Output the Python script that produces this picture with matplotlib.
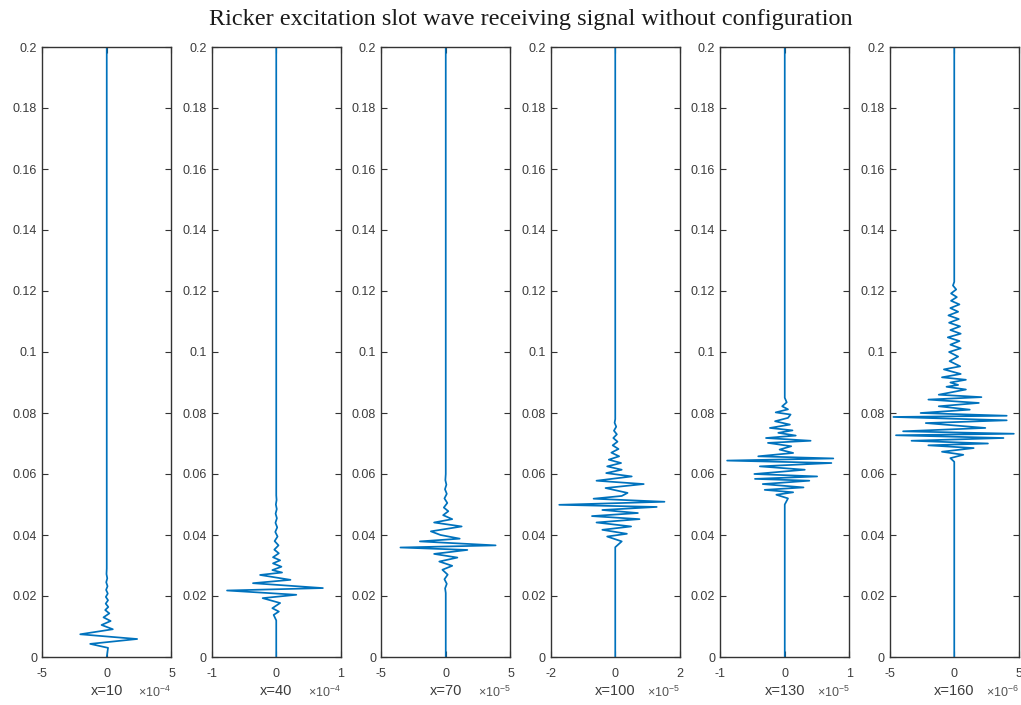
import matplotlib
matplotlib.use("Agg")
import matplotlib.pyplot as plt
from matplotlib.ticker import FuncFormatter, MultipleLocator

plt.rcParams["mathtext.fontset"] = "custom"
plt.rcParams["mathtext.rm"] = "Liberation Sans"
plt.rcParams["mathtext.it"] = "Liberation Sans"

# ---------------- data ----------------
labels = ["x=10", "x=40", "x=70", "x=100", "x=130", "x=160"]
xlims = [5e-4, 1e-4, 5e-5, 2e-5, 1e-5, 5e-6]
xtick_text = [["-5", "0", "5"], ["-1", "0", "1"], ["-5", "0", "5"],
              ["-2", "0", "2"], ["-1", "0", "1"], ["-5", "0", "5"]]
exponents = [-4, -4, -5, -5, -5, -6]

# trace x=10 : time (s) of extrema and amplitude
t1 = [0, 0.0030, 0.0043, 0.0059, 0.00745, 0.0091, 0.0105, 0.0118, 0.0130,
      0.0143, 0.0154, 0.0164, 0.0175, 0.0186, 0.0197, 0.0208, 0.0220, 0.0232,
      0.0245, 0.0258, 0.0272, 0.0290, 0.2]
a1 = [0, 0.1e-4, -1.28e-4, 2.35e-4, -2.05e-4, 0.47e-4, -0.40e-4, 0.30e-4,
      -0.25e-4, 0.20e-4, -0.12e-4, 0.12e-4, -0.08e-4, 0.10e-4, -0.07e-4,
      0.08e-4, -0.05e-4, 0.06e-4, -0.04e-4, 0.04e-4, -0.02e-4, 0, 0]

# trace x=40
t2 = [0, 0.0120, 0.0138, 0.0149, 0.0160, 0.0177, 0.0193, 0.0204, 0.0218,
      0.0226, 0.0242, 0.0253, 0.0269, 0.0277, 0.0285, 0.0296, 0.0307, 0.0317,
      0.0327, 0.0340, 0.0352, 0.0366, 0.0380, 0.0395, 0.0410, 0.0425, 0.0440,
      0.0455, 0.0470, 0.0485, 0.0500, 0.0515, 0.0530, 0.2]
a2 = [0, 0, -0.4e-5, 0.4e-5, -0.6e-5, 0.6e-5, -2.1e-5, 3.1e-5, -7.6e-5,
      7.2e-5, -3.6e-5, 2.2e-5, -2.5e-5, 0.9e-5, -0.6e-5, 0.8e-5, -0.5e-5,
      0.6e-5, -0.5e-5, 0.4e-5, -0.3e-5, 0.35e-5, -0.25e-5, 0.2e-5, -0.15e-5,
      0.15e-5, -0.12e-5, 0.1e-5, -0.1e-5, 0.08e-5, -0.06e-5, 0.05e-5,
      0, 0]

# trace x=70
t3 = [0, 0.0210, 0.0225, 0.0240, 0.0255, 0.0270, 0.0286, 0.0299, 0.0313,
      0.0326, 0.0338, 0.0351, 0.0359, 0.0366, 0.0379, 0.0388, 0.0400, 0.0412,
      0.0428, 0.0441, 0.0452, 0.0465, 0.0478, 0.0490, 0.0505, 0.0520, 0.0535,
      0.0550, 0.0565, 0.0580, 0.0600, 0.2]
a3 = [0, 0, -0.5e-6, 0.8e-6, -1.0e-6, 1.5e-6, -2.6e-6, 5.0e-6, -5.0e-6,
      9.0e-6, -9.0e-6, 16.7e-6, -35.0e-6, 38.5e-6, -20.0e-6, 10.8e-6,
      -4.0e-6, -11.5e-6, 12.3e-6, -9.0e-6, 5.0e-6, -2.0e-6, 2.0e-6, -1.5e-6,
      1.2e-6, -1.0e-6, 0.8e-6, -0.6e-6, 0.5e-6, -0.3e-6, 0, 0]

# trace x=100
t4 = [0, 0.0360, 0.0379, 0.0395, 0.0404, 0.0417, 0.0428, 0.0441, 0.0452,
      0.0462, 0.0472, 0.0482, 0.0492, 0.0499, 0.0509, 0.0519, 0.0528, 0.0538,
      0.0554, 0.0567, 0.0578, 0.0592, 0.0603, 0.0614, 0.0625, 0.0636, 0.0647,
      0.0658, 0.0670, 0.0682, 0.0694, 0.0706, 0.0718, 0.0730, 0.0742, 0.0755,
      0.0768, 0.0780, 0.2]
a4 = [0, 0, 2.0e-6, -2.5e-6, 3.6e-6, -4.0e-6, 4.9e-6, -5.8e-6, 7.5e-6,
      -7.2e-6, 7.0e-6, -4.0e-6, 12.8e-6, -17.3e-6, 15.2e-6, -6.7e-6, 2.0e-6,
      3.8e-6, -3.0e-6, 8.8e-6, -5.8e-6, 5.1e-6, -2.8e-6, 2.0e-6, -2.5e-6,
      1.8e-6, -2.0e-6, 1.2e-6, -1.2e-6, 1.0e-6, -0.8e-6, 0.7e-6, -0.6e-6,
      0.5e-6, -0.4e-6, 0.3e-6, -0.2e-6, 0, 0]

# trace x=130
t5 = [0, 0.0500, 0.0520, 0.0532, 0.0540, 0.0548, 0.0556, 0.0567, 0.0578,
      0.0584, 0.0592, 0.0600, 0.0614, 0.0625, 0.0636, 0.0644, 0.0651, 0.0658,
      0.0669, 0.0680, 0.0691, 0.0702, 0.0709, 0.0718, 0.0726, 0.0735, 0.0743,
      0.0751, 0.0762, 0.0773, 0.0784, 0.0795, 0.0802, 0.0812, 0.0822, 0.0835,
      0.0850, 0.2]
a5 = [0, 0, 0.5e-6, -1.3e-6, 1.3e-6, -3.1e-6, 2.9e-6, -3.4e-6, 3.8e-6,
      -4.6e-6, 5.0e-6, -4.7e-6, 3.1e-6, -3.85e-6, 7.2e-6, -8.9e-6, 7.5e-6,
      -4.1e-6, 1.3e-6, -0.8e-6, 1.0e-6, -2.6e-6, 4.0e-6, -2.9e-6, 1.7e-6,
      -1.0e-6, 1.2e-6, -2.3e-6, 0.8e-6, -1.5e-6, 0.5e-6, 0.9e-6, -1.4e-6,
      0.5e-6, -0.4e-6, 0.3e-6, 0, 0]

# trace x=160
t6 = [0, 0.0640, 0.0652, 0.0663, 0.0673, 0.0685, 0.0694, 0.0700, 0.0709,
      0.0718, 0.0727, 0.0732, 0.0740, 0.0751, 0.0767, 0.0776, 0.0787, 0.0791,
      0.0800, 0.0811, 0.0822, 0.0833, 0.0844, 0.0852, 0.0860, 0.0877, 0.0886,
      0.0892, 0.0900, 0.0909, 0.0917, 0.0928, 0.0943, 0.0953, 0.0970, 0.0985,
      0.1000, 0.1012, 0.1024, 0.1036, 0.1048, 0.1060, 0.1072, 0.1084, 0.1096,
      0.1108, 0.1120, 0.1132, 0.1144, 0.1156, 0.1168, 0.1180, 0.1192, 0.1205,
      0.1218, 0.1230, 0.2]
a6 = [0, 0, -0.3e-6, 0.7e-6, -0.95e-6, 1.5e-6, -2.0e-6, 2.6e-6, -3.3e-6,
      3.8e-6, -4.5e-6, 4.6e-6, -3.95e-6, 2.4e-6, -2.2e-6, 4.05e-6, -4.7e-6,
      4.05e-6, -2.6e-6, 1.2e-6, -1.2e-6, 1.9e-6, -2.0e-6, 2.1e-6, -1.2e-6,
      0.9e-6, -0.6e-6, 0.3e-6, -0.3e-6, 0.9e-6, -0.95e-6, 0.5e-6, -0.8e-6,
      0.46e-6, -0.36e-6, 0.3e-6, -0.4e-6, 0.5e-6, -0.3e-6, 0.4e-6, -0.5e-6,
      0.5e-6, -0.3e-6, 0.45e-6, -0.4e-6, 0.35e-6, -0.45e-6, 0.3e-6, -0.3e-6,
      0.4e-6, -0.25e-6, 0.2e-6, -0.25e-6, 0.15e-6, -0.1e-6, 0, 0]

times = [t1, t2, t3, t4, t5, t6]
amps = [a1, a2, a3, a4, a5, a6]
title = "Ricker excitation slot wave receiving signal without configuration"

# ---------------- figure ----------------
W, H = 1021, 705
fig, axes = plt.subplots(1, 6, figsize=(W / 100, H / 100), dpi=100)
fig.subplots_adjust(left=42 / W, right=1019 / W, bottom=1 - 657 / H,
                    top=1 - 47 / H, wspace=0.309)

line_color = "#0072BD"
ax_color = "#333333"
lab_color = "#3c3c3c"
tick_font = "Liberation Sans"

for i, ax in enumerate(axes):
    ax.plot(amps[i], times[i], color=line_color, lw=1.25)
    lim = xlims[i]
    ax.set_xlim(-lim, lim)
    ax.set_ylim(0, 0.2)
    ax.set_xticks([-lim, 0, lim])
    ax.set_xticklabels(xtick_text[i])
    ax.yaxis.set_major_locator(MultipleLocator(0.02))
    ax.yaxis.set_major_formatter(FuncFormatter(lambda v, p: "%g" % round(v, 4)))
    ax.tick_params(direction="in", top=True, right=True, length=4.5,
                   width=0.8, color=ax_color, labelcolor=lab_color,
                   labelsize=9)
    ax.tick_params(axis="x", pad=8)
    ax.tick_params(axis="y", pad=3.5)
    for lab in ax.get_xticklabels() + ax.get_yticklabels():
        lab.set_fontfamily(tick_font)
    for sp in ax.spines.values():
        sp.set_color(ax_color)
        sp.set_linewidth(1.0)
    ax.set_xlabel(labels[i], fontsize=10.5, color=lab_color,
                  fontfamily=tick_font, labelpad=3)
    ax.text(1.0, -0.058, r"$\times10^{%d}$" % exponents[i],
            transform=ax.transAxes, ha="right", va="center",
            fontsize=9, color="#555555")

fig.text((42 + 1019) / 2 / W, 1 - 20 / H, title, ha="center", va="center",
         fontsize=17.5, fontfamily="Liberation Serif", color="#1a1a1a")

fig.savefig("out.png", dpi=100)
